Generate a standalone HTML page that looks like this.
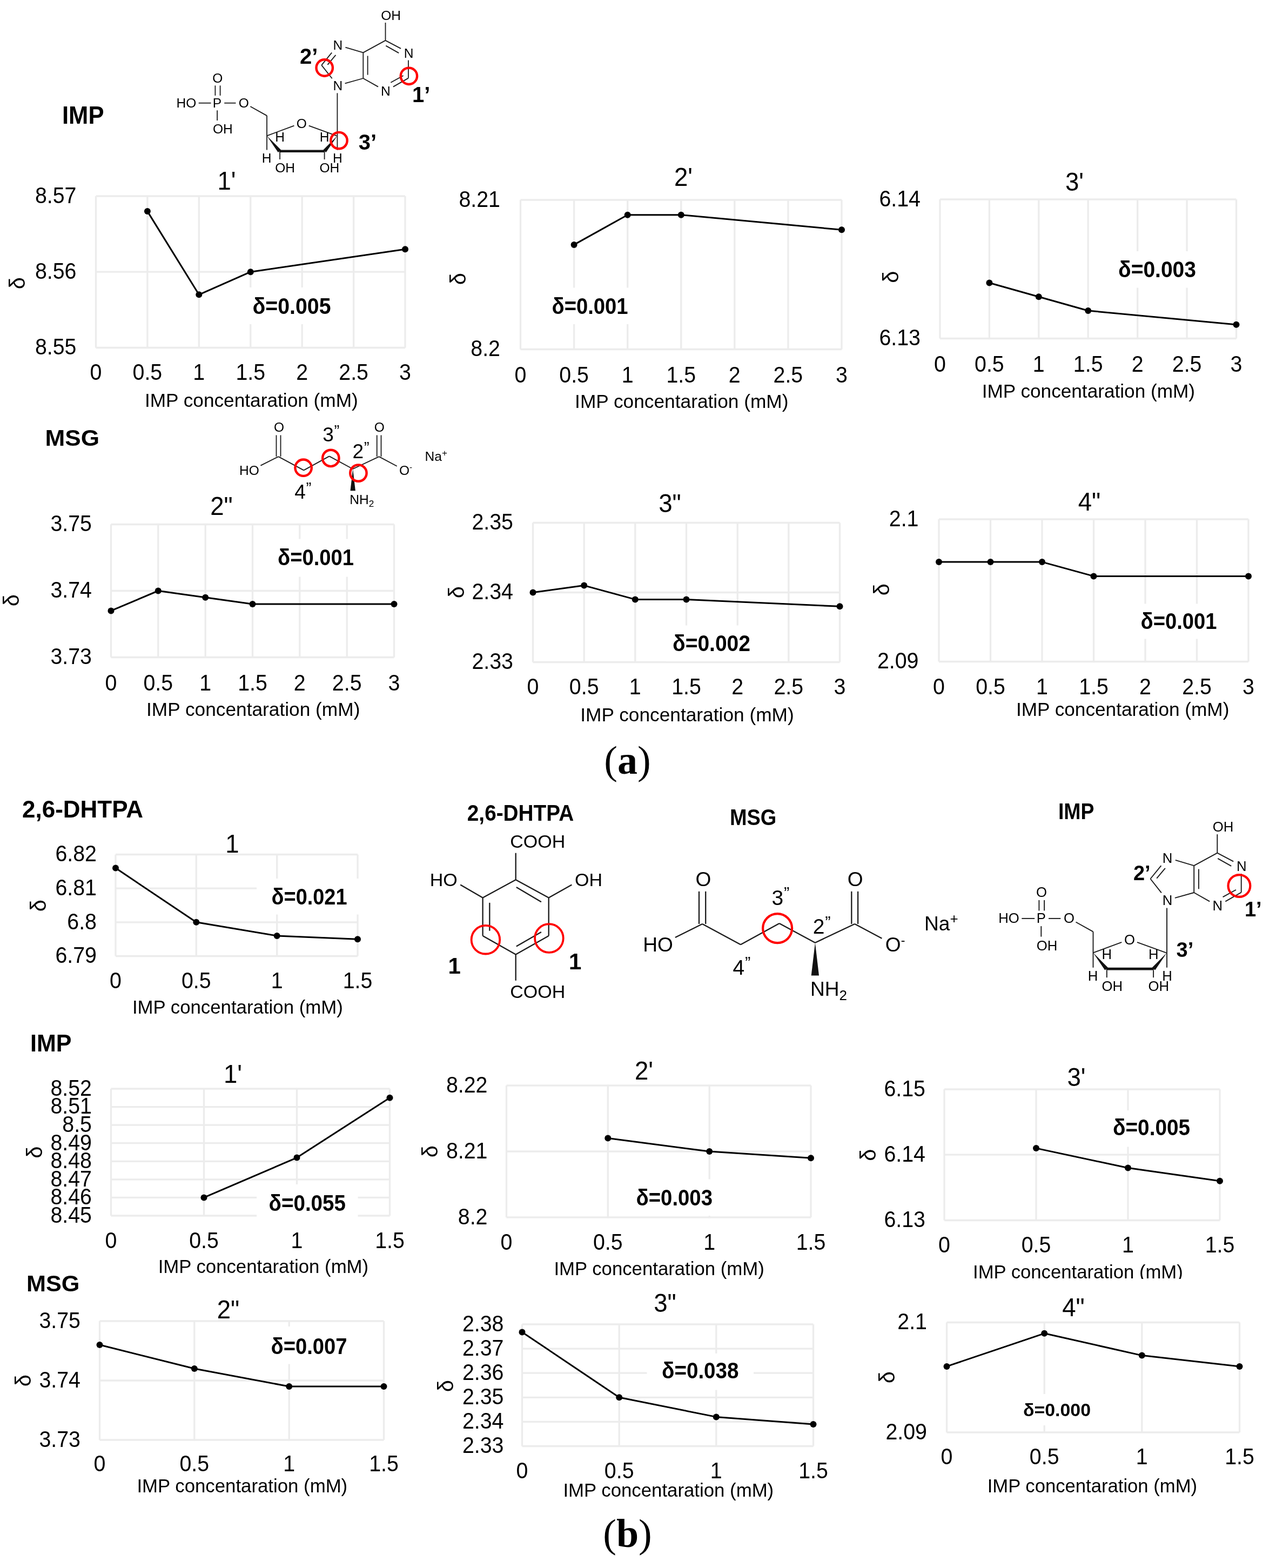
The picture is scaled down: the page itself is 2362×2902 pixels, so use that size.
<!DOCTYPE html>
<html><head><meta charset="utf-8"><title>Figure</title>
<style>html,body{margin:0;padding:0;background:#fff;}svg{display:block;}</style>
</head><body>
<svg width="2362" height="2902" viewBox="0 0 2362 2902" font-family='"Liberation Sans", Arial, Helvetica, sans-serif' fill="#000">
<rect width="2362" height="2902" fill="#fff"/>
<g stroke="#ececec" stroke-width="3.3"><line x1="177.5" y1="363.0" x2="177.5" y2="643.5"/><line x1="272.9" y1="363.0" x2="272.9" y2="643.5"/><line x1="368.3" y1="363.0" x2="368.3" y2="643.5"/><line x1="463.8" y1="363.0" x2="463.8" y2="643.5"/><line x1="559.2" y1="363.0" x2="559.2" y2="643.5"/><line x1="654.6" y1="363.0" x2="654.6" y2="643.5"/><line x1="750.0" y1="363.0" x2="750.0" y2="643.5"/><line x1="177.5" y1="363.0" x2="750.0" y2="363.0"/><line x1="177.5" y1="503.2" x2="750.0" y2="503.2"/><line x1="177.5" y1="643.5" x2="750.0" y2="643.5"/></g>
<rect x="455.0" y="532.0" width="170.0" height="68.0" fill="#fff"/>
<polyline fill="none" stroke="#000" stroke-width="3" stroke-linejoin="round" points="272.9,391.1 368.3,545.3 463.8,503.2 750.0,461.2"/>
<g fill="#000"><circle cx="272.9" cy="391.1" r="6"/><circle cx="368.3" cy="545.3" r="6"/><circle cx="463.8" cy="503.2" r="6"/><circle cx="750.0" cy="461.2" r="6"/></g>
<g font-size="43" text-anchor="end"><text transform="translate(141.5,375.8) scale(0.915,1)">8.57</text><text transform="translate(141.5,516.1) scale(0.915,1)">8.56</text><text transform="translate(141.5,656.3) scale(0.915,1)">8.55</text></g>
<g font-size="43" text-anchor="middle"><text transform="translate(177.5,702.5) scale(0.915,1)">0</text><text transform="translate(272.9,702.5) scale(0.915,1)">0.5</text><text transform="translate(368.3,702.5) scale(0.915,1)">1</text><text transform="translate(463.8,702.5) scale(0.915,1)">1.5</text><text transform="translate(559.2,702.5) scale(0.915,1)">2</text><text transform="translate(654.6,702.5) scale(0.915,1)">2.5</text><text transform="translate(750.0,702.5) scale(0.915,1)">3</text></g>
<text transform="translate(419.5,351.0) scale(0.95,1)" font-size="48" text-anchor="middle">1'</text>
<text transform="translate(32.0,524.0) rotate(-90)" font-size="40" text-anchor="middle" dominant-baseline="central">&#948;</text>
<text x="467.5" y="581.0" font-size="42" font-weight="bold" textLength="145.0" lengthAdjust="spacingAndGlyphs">&#948;=0.005</text>
<text x="267.9" y="753.0" font-size="35" textLength="394.9" lengthAdjust="spacingAndGlyphs">IMP concentaration (mM)</text>
<g stroke="#ececec" stroke-width="3.3"><line x1="963.5" y1="370.0" x2="963.5" y2="646.5"/><line x1="1062.6" y1="370.0" x2="1062.6" y2="646.5"/><line x1="1161.7" y1="370.0" x2="1161.7" y2="646.5"/><line x1="1260.8" y1="370.0" x2="1260.8" y2="646.5"/><line x1="1359.8" y1="370.0" x2="1359.8" y2="646.5"/><line x1="1458.9" y1="370.0" x2="1458.9" y2="646.5"/><line x1="1558.0" y1="370.0" x2="1558.0" y2="646.5"/><line x1="963.5" y1="370.0" x2="1558.0" y2="370.0"/><line x1="963.5" y1="646.5" x2="1558.0" y2="646.5"/></g>
<rect x="1010.0" y="532.5" width="165.0" height="67.5" fill="#fff"/>
<polyline fill="none" stroke="#000" stroke-width="3" stroke-linejoin="round" points="1062.6,452.9 1161.7,397.7 1260.8,397.7 1558.0,425.3"/>
<g fill="#000"><circle cx="1062.6" cy="452.9" r="6"/><circle cx="1161.7" cy="397.7" r="6"/><circle cx="1260.8" cy="397.7" r="6"/><circle cx="1558.0" cy="425.3" r="6"/></g>
<g font-size="43" text-anchor="end"><text transform="translate(926.0,382.8) scale(0.915,1)">8.21</text><text transform="translate(926.0,659.3) scale(0.915,1)">8.2</text></g>
<g font-size="43" text-anchor="middle"><text transform="translate(963.5,707.5) scale(0.915,1)">0</text><text transform="translate(1062.6,707.5) scale(0.915,1)">0.5</text><text transform="translate(1161.7,707.5) scale(0.915,1)">1</text><text transform="translate(1260.8,707.5) scale(0.915,1)">1.5</text><text transform="translate(1359.8,707.5) scale(0.915,1)">2</text><text transform="translate(1458.9,707.5) scale(0.915,1)">2.5</text><text transform="translate(1558.0,707.5) scale(0.915,1)">3</text></g>
<text transform="translate(1265.0,344.0) scale(0.95,1)" font-size="48" text-anchor="middle">2'</text>
<text transform="translate(848.0,516.0) rotate(-90)" font-size="40" text-anchor="middle" dominant-baseline="central">&#948;</text>
<text x="1021.5" y="581.0" font-size="42" font-weight="bold" textLength="141.0" lengthAdjust="spacingAndGlyphs">&#948;=0.001</text>
<text x="1064.1" y="755.3" font-size="35" textLength="395.4" lengthAdjust="spacingAndGlyphs">IMP concentaration (mM)</text>
<g stroke="#ececec" stroke-width="3.3"><line x1="1740.0" y1="369.0" x2="1740.0" y2="626.5"/><line x1="1831.4" y1="369.0" x2="1831.4" y2="626.5"/><line x1="1922.8" y1="369.0" x2="1922.8" y2="626.5"/><line x1="2014.2" y1="369.0" x2="2014.2" y2="626.5"/><line x1="2105.7" y1="369.0" x2="2105.7" y2="626.5"/><line x1="2197.1" y1="369.0" x2="2197.1" y2="626.5"/><line x1="2288.5" y1="369.0" x2="2288.5" y2="626.5"/><line x1="1740.0" y1="369.0" x2="2288.5" y2="369.0"/><line x1="1740.0" y1="626.5" x2="2288.5" y2="626.5"/></g>
<rect x="2058.0" y="465.0" width="168.0" height="67.5" fill="#fff"/>
<polyline fill="none" stroke="#000" stroke-width="3" stroke-linejoin="round" points="1831.4,523.5 1922.8,549.2 2014.2,575.0 2288.5,600.7"/>
<g fill="#000"><circle cx="1831.4" cy="523.5" r="6"/><circle cx="1922.8" cy="549.2" r="6"/><circle cx="2014.2" cy="575.0" r="6"/><circle cx="2288.5" cy="600.7" r="6"/></g>
<g font-size="43" text-anchor="end"><text transform="translate(1704.0,381.8) scale(0.915,1)">6.14</text><text transform="translate(1704.0,639.3) scale(0.915,1)">6.13</text></g>
<g font-size="43" text-anchor="middle"><text transform="translate(1740.0,687.5) scale(0.915,1)">0</text><text transform="translate(1831.4,687.5) scale(0.915,1)">0.5</text><text transform="translate(1922.8,687.5) scale(0.915,1)">1</text><text transform="translate(2014.2,687.5) scale(0.915,1)">1.5</text><text transform="translate(2105.7,687.5) scale(0.915,1)">2</text><text transform="translate(2197.1,687.5) scale(0.915,1)">2.5</text><text transform="translate(2288.5,687.5) scale(0.915,1)">3</text></g>
<text transform="translate(1989.0,352.5) scale(0.95,1)" font-size="48" text-anchor="middle">3'</text>
<text transform="translate(1649.0,512.5) rotate(-90)" font-size="40" text-anchor="middle" dominant-baseline="central">&#948;</text>
<text x="2070.0" y="512.5" font-size="42" font-weight="bold" textLength="144.0" lengthAdjust="spacingAndGlyphs">&#948;=0.003</text>
<text x="1817.7" y="735.5" font-size="35" textLength="394.4" lengthAdjust="spacingAndGlyphs">IMP concentaration (mM)</text>
<g stroke="#ececec" stroke-width="3.3"><line x1="205.5" y1="970.5" x2="205.5" y2="1216.5"/><line x1="292.8" y1="970.5" x2="292.8" y2="1216.5"/><line x1="380.2" y1="970.5" x2="380.2" y2="1216.5"/><line x1="467.5" y1="970.5" x2="467.5" y2="1216.5"/><line x1="554.8" y1="970.5" x2="554.8" y2="1216.5"/><line x1="642.2" y1="970.5" x2="642.2" y2="1216.5"/><line x1="729.5" y1="970.5" x2="729.5" y2="1216.5"/><line x1="205.5" y1="970.5" x2="729.5" y2="970.5"/><line x1="205.5" y1="1093.5" x2="729.5" y2="1093.5"/><line x1="205.5" y1="1216.5" x2="729.5" y2="1216.5"/></g>
<rect x="502.0" y="997.5" width="165.0" height="70.0" fill="#fff"/>
<polyline fill="none" stroke="#000" stroke-width="3" stroke-linejoin="round" points="205.5,1130.4 292.8,1093.5 380.2,1105.8 467.5,1118.1 729.5,1118.1"/>
<g fill="#000"><circle cx="205.5" cy="1130.4" r="6"/><circle cx="292.8" cy="1093.5" r="6"/><circle cx="380.2" cy="1105.8" r="6"/><circle cx="467.5" cy="1118.1" r="6"/><circle cx="729.5" cy="1118.1" r="6"/></g>
<g font-size="43" text-anchor="end"><text transform="translate(170.0,983.3) scale(0.915,1)">3.75</text><text transform="translate(170.0,1106.3) scale(0.915,1)">3.74</text><text transform="translate(170.0,1229.3) scale(0.915,1)">3.73</text></g>
<g font-size="43" text-anchor="middle"><text transform="translate(205.5,1277.5) scale(0.915,1)">0</text><text transform="translate(292.8,1277.5) scale(0.915,1)">0.5</text><text transform="translate(380.2,1277.5) scale(0.915,1)">1</text><text transform="translate(467.5,1277.5) scale(0.915,1)">1.5</text><text transform="translate(554.8,1277.5) scale(0.915,1)">2</text><text transform="translate(642.2,1277.5) scale(0.915,1)">2.5</text><text transform="translate(729.5,1277.5) scale(0.915,1)">3</text></g>
<text transform="translate(410.0,952.5) scale(0.95,1)" font-size="48" text-anchor="middle">2"</text>
<text transform="translate(21.0,1111.0) rotate(-90)" font-size="40" text-anchor="middle" dominant-baseline="central">&#948;</text>
<text x="514.0" y="1046.0" font-size="42" font-weight="bold" textLength="141.0" lengthAdjust="spacingAndGlyphs">&#948;=0.001</text>
<text x="271.0" y="1325.1" font-size="35" textLength="395.4" lengthAdjust="spacingAndGlyphs">IMP concentaration (mM)</text>
<g stroke="#ececec" stroke-width="3.3"><line x1="986.5" y1="967.5" x2="986.5" y2="1225.5"/><line x1="1081.2" y1="967.5" x2="1081.2" y2="1225.5"/><line x1="1175.8" y1="967.5" x2="1175.8" y2="1225.5"/><line x1="1270.5" y1="967.5" x2="1270.5" y2="1225.5"/><line x1="1365.2" y1="967.5" x2="1365.2" y2="1225.5"/><line x1="1459.8" y1="967.5" x2="1459.8" y2="1225.5"/><line x1="1554.5" y1="967.5" x2="1554.5" y2="1225.5"/><line x1="986.5" y1="967.5" x2="1554.5" y2="967.5"/><line x1="986.5" y1="1096.5" x2="1554.5" y2="1096.5"/><line x1="986.5" y1="1225.5" x2="1554.5" y2="1225.5"/></g>
<rect x="1233.0" y="1157.5" width="168.0" height="66.5" fill="#fff"/>
<polyline fill="none" stroke="#000" stroke-width="3" stroke-linejoin="round" points="986.5,1096.5 1081.2,1083.6 1175.8,1109.4 1270.5,1109.4 1554.5,1122.3"/>
<g fill="#000"><circle cx="986.5" cy="1096.5" r="6"/><circle cx="1081.2" cy="1083.6" r="6"/><circle cx="1175.8" cy="1109.4" r="6"/><circle cx="1270.5" cy="1109.4" r="6"/><circle cx="1554.5" cy="1122.3" r="6"/></g>
<g font-size="43" text-anchor="end"><text transform="translate(950.0,980.3) scale(0.915,1)">2.35</text><text transform="translate(950.0,1109.3) scale(0.915,1)">2.34</text><text transform="translate(950.0,1238.3) scale(0.915,1)">2.33</text></g>
<g font-size="43" text-anchor="middle"><text transform="translate(986.5,1285.0) scale(0.915,1)">0</text><text transform="translate(1081.2,1285.0) scale(0.915,1)">0.5</text><text transform="translate(1175.8,1285.0) scale(0.915,1)">1</text><text transform="translate(1270.5,1285.0) scale(0.915,1)">1.5</text><text transform="translate(1365.2,1285.0) scale(0.915,1)">2</text><text transform="translate(1459.8,1285.0) scale(0.915,1)">2.5</text><text transform="translate(1554.5,1285.0) scale(0.915,1)">3</text></g>
<text transform="translate(1240.0,947.5) scale(0.95,1)" font-size="48" text-anchor="middle">3"</text>
<text transform="translate(844.5,1096.0) rotate(-90)" font-size="40" text-anchor="middle" dominant-baseline="central">&#948;</text>
<text x="1245.0" y="1204.5" font-size="42" font-weight="bold" textLength="144.0" lengthAdjust="spacingAndGlyphs">&#948;=0.002</text>
<text x="1074.3" y="1335.1" font-size="35" textLength="395.4" lengthAdjust="spacingAndGlyphs">IMP concentaration (mM)</text>
<g stroke="#ececec" stroke-width="3.3"><line x1="1738.0" y1="961.0" x2="1738.0" y2="1224.5"/><line x1="1833.5" y1="961.0" x2="1833.5" y2="1224.5"/><line x1="1929.0" y1="961.0" x2="1929.0" y2="1224.5"/><line x1="2024.5" y1="961.0" x2="2024.5" y2="1224.5"/><line x1="2120.0" y1="961.0" x2="2120.0" y2="1224.5"/><line x1="2215.5" y1="961.0" x2="2215.5" y2="1224.5"/><line x1="2311.0" y1="961.0" x2="2311.0" y2="1224.5"/><line x1="1738.0" y1="961.0" x2="2311.0" y2="961.0"/><line x1="1738.0" y1="1224.5" x2="2311.0" y2="1224.5"/></g>
<rect x="2100.0" y="1117.5" width="165.0" height="65.0" fill="#fff"/>
<polyline fill="none" stroke="#000" stroke-width="3" stroke-linejoin="round" points="1738.0,1040.1 1833.5,1040.1 1929.0,1040.1 2024.5,1066.4 2311.0,1066.4"/>
<g fill="#000"><circle cx="1738.0" cy="1040.1" r="6"/><circle cx="1833.5" cy="1040.1" r="6"/><circle cx="1929.0" cy="1040.1" r="6"/><circle cx="2024.5" cy="1066.4" r="6"/><circle cx="2311.0" cy="1066.4" r="6"/></g>
<g font-size="43" text-anchor="end"><text transform="translate(1700.5,973.8) scale(0.915,1)">2.1</text><text transform="translate(1700.5,1237.3) scale(0.915,1)">2.09</text></g>
<g font-size="43" text-anchor="middle"><text transform="translate(1738.0,1285.0) scale(0.915,1)">0</text><text transform="translate(1833.5,1285.0) scale(0.915,1)">0.5</text><text transform="translate(1929.0,1285.0) scale(0.915,1)">1</text><text transform="translate(2024.5,1285.0) scale(0.915,1)">1.5</text><text transform="translate(2120.0,1285.0) scale(0.915,1)">2</text><text transform="translate(2215.5,1285.0) scale(0.915,1)">2.5</text><text transform="translate(2311.0,1285.0) scale(0.915,1)">3</text></g>
<text transform="translate(2016.5,945.0) scale(0.95,1)" font-size="48" text-anchor="middle">4"</text>
<text transform="translate(1631.5,1091.0) rotate(-90)" font-size="40" text-anchor="middle" dominant-baseline="central">&#948;</text>
<text x="2111.5" y="1163.5" font-size="42" font-weight="bold" textLength="141.0" lengthAdjust="spacingAndGlyphs">&#948;=0.001</text>
<text x="1881.0" y="1325.1" font-size="35" textLength="394.4" lengthAdjust="spacingAndGlyphs">IMP concentaration (mM)</text>
<g stroke="#ececec" stroke-width="3.3"><line x1="214.0" y1="1581.5" x2="214.0" y2="1769.5"/><line x1="363.3" y1="1581.5" x2="363.3" y2="1769.5"/><line x1="512.7" y1="1581.5" x2="512.7" y2="1769.5"/><line x1="662.0" y1="1581.5" x2="662.0" y2="1769.5"/><line x1="214.0" y1="1581.5" x2="662.0" y2="1581.5"/><line x1="214.0" y1="1644.2" x2="662.0" y2="1644.2"/><line x1="214.0" y1="1706.8" x2="662.0" y2="1706.8"/><line x1="214.0" y1="1769.5" x2="662.0" y2="1769.5"/></g>
<rect x="475.0" y="1626.0" width="197.0" height="66.5" fill="#fff"/>
<polyline fill="none" stroke="#000" stroke-width="3" stroke-linejoin="round" points="214.0,1606.6 363.3,1706.8 512.7,1731.9 662.0,1738.2"/>
<g fill="#000"><circle cx="214.0" cy="1606.6" r="6"/><circle cx="363.3" cy="1706.8" r="6"/><circle cx="512.7" cy="1731.9" r="6"/><circle cx="662.0" cy="1738.2" r="6"/></g>
<g font-size="43" text-anchor="end"><text transform="translate(179.0,1594.3) scale(0.915,1)">6.82</text><text transform="translate(179.0,1657.0) scale(0.915,1)">6.81</text><text transform="translate(179.0,1719.7) scale(0.915,1)">6.8</text><text transform="translate(179.0,1782.3) scale(0.915,1)">6.79</text></g>
<g font-size="43" text-anchor="middle"><text transform="translate(214.0,1828.5) scale(0.915,1)">0</text><text transform="translate(363.3,1828.5) scale(0.915,1)">0.5</text><text transform="translate(512.7,1828.5) scale(0.915,1)">1</text><text transform="translate(662.0,1828.5) scale(0.915,1)">1.5</text></g>
<text transform="translate(430.0,1577.5) scale(0.95,1)" font-size="48" text-anchor="middle">1</text>
<text transform="translate(71.0,1676.0) rotate(-90)" font-size="40" text-anchor="middle" dominant-baseline="central">&#948;</text>
<text x="502.5" y="1673.5" font-size="42" font-weight="bold" textLength="140.0" lengthAdjust="spacingAndGlyphs">&#948;=0.021</text>
<text x="244.9" y="1876.3" font-size="35" textLength="389.9" lengthAdjust="spacingAndGlyphs">IMP concentaration (mM)</text>
<g stroke="#ececec" stroke-width="3.3"><line x1="205.5" y1="2015.0" x2="205.5" y2="2250.0"/><line x1="377.5" y1="2015.0" x2="377.5" y2="2250.0"/><line x1="549.5" y1="2015.0" x2="549.5" y2="2250.0"/><line x1="721.5" y1="2015.0" x2="721.5" y2="2250.0"/><line x1="205.5" y1="2015.0" x2="721.5" y2="2015.0"/><line x1="205.5" y1="2048.6" x2="721.5" y2="2048.6"/><line x1="205.5" y1="2082.1" x2="721.5" y2="2082.1"/><line x1="205.5" y1="2115.7" x2="721.5" y2="2115.7"/><line x1="205.5" y1="2149.3" x2="721.5" y2="2149.3"/><line x1="205.5" y1="2182.9" x2="721.5" y2="2182.9"/><line x1="205.5" y1="2216.4" x2="721.5" y2="2216.4"/><line x1="205.5" y1="2250.0" x2="721.5" y2="2250.0"/></g>
<rect x="475.0" y="2192.0" width="187.5" height="64.0" fill="#fff"/>
<polyline fill="none" stroke="#000" stroke-width="3" stroke-linejoin="round" points="377.5,2216.4 549.5,2142.6 721.5,2031.8"/>
<g fill="#000"><circle cx="377.5" cy="2216.4" r="6"/><circle cx="549.5" cy="2142.6" r="6"/><circle cx="721.5" cy="2031.8" r="6"/></g>
<g font-size="43" text-anchor="end"><text transform="translate(170.0,2027.8) scale(0.915,1)">8.52</text><text transform="translate(170.0,2061.4) scale(0.915,1)">8.51</text><text transform="translate(170.0,2095.0) scale(0.915,1)">8.5</text><text transform="translate(170.0,2128.5) scale(0.915,1)">8.49</text><text transform="translate(170.0,2162.1) scale(0.915,1)">8.48</text><text transform="translate(170.0,2195.7) scale(0.915,1)">8.47</text><text transform="translate(170.0,2229.3) scale(0.915,1)">8.46</text><text transform="translate(170.0,2262.8) scale(0.915,1)">8.45</text></g>
<g font-size="43" text-anchor="middle"><text transform="translate(205.5,2310.0) scale(0.915,1)">0</text><text transform="translate(377.5,2310.0) scale(0.915,1)">0.5</text><text transform="translate(549.5,2310.0) scale(0.915,1)">1</text><text transform="translate(721.5,2310.0) scale(0.915,1)">1.5</text></g>
<text transform="translate(431.0,2004.0) scale(0.95,1)" font-size="48" text-anchor="middle">1'</text>
<text transform="translate(64.0,2132.5) rotate(-90)" font-size="40" text-anchor="middle" dominant-baseline="central">&#948;</text>
<text x="497.5" y="2241.0" font-size="42" font-weight="bold" textLength="142.5" lengthAdjust="spacingAndGlyphs">&#948;=0.055</text>
<text x="292.7" y="2356.3" font-size="35" textLength="389.4" lengthAdjust="spacingAndGlyphs">IMP concentaration (mM)</text>
<g stroke="#ececec" stroke-width="3.3"><line x1="937.5" y1="2009.0" x2="937.5" y2="2253.0"/><line x1="1125.3" y1="2009.0" x2="1125.3" y2="2253.0"/><line x1="1313.2" y1="2009.0" x2="1313.2" y2="2253.0"/><line x1="1501.0" y1="2009.0" x2="1501.0" y2="2253.0"/><line x1="937.5" y1="2009.0" x2="1501.0" y2="2009.0"/><line x1="937.5" y1="2131.0" x2="1501.0" y2="2131.0"/><line x1="937.5" y1="2253.0" x2="1501.0" y2="2253.0"/></g>
<rect x="1165.0" y="2182.5" width="167.0" height="67.5" fill="#fff"/>
<polyline fill="none" stroke="#000" stroke-width="3" stroke-linejoin="round" points="1125.3,2106.6 1313.2,2131.0 1501.0,2143.2"/>
<g fill="#000"><circle cx="1125.3" cy="2106.6" r="6"/><circle cx="1313.2" cy="2131.0" r="6"/><circle cx="1501.0" cy="2143.2" r="6"/></g>
<g font-size="43" text-anchor="end"><text transform="translate(902.5,2021.8) scale(0.915,1)">8.22</text><text transform="translate(902.5,2143.8) scale(0.915,1)">8.21</text><text transform="translate(902.5,2265.8) scale(0.915,1)">8.2</text></g>
<g font-size="43" text-anchor="middle"><text transform="translate(937.5,2312.5) scale(0.915,1)">0</text><text transform="translate(1125.3,2312.5) scale(0.915,1)">0.5</text><text transform="translate(1313.2,2312.5) scale(0.915,1)">1</text><text transform="translate(1501.0,2312.5) scale(0.915,1)">1.5</text></g>
<text transform="translate(1192.0,1997.5) scale(0.95,1)" font-size="48" text-anchor="middle">2'</text>
<text transform="translate(795.5,2131.0) rotate(-90)" font-size="40" text-anchor="middle" dominant-baseline="central">&#948;</text>
<text x="1177.5" y="2231.0" font-size="42" font-weight="bold" textLength="141.5" lengthAdjust="spacingAndGlyphs">&#948;=0.003</text>
<text x="1025.4" y="2360.3" font-size="35" textLength="389.4" lengthAdjust="spacingAndGlyphs">IMP concentaration (mM)</text>
<g stroke="#ececec" stroke-width="3.3"><line x1="1748.0" y1="2016.0" x2="1748.0" y2="2258.5"/><line x1="1918.0" y1="2016.0" x2="1918.0" y2="2258.5"/><line x1="2088.0" y1="2016.0" x2="2088.0" y2="2258.5"/><line x1="2258.0" y1="2016.0" x2="2258.0" y2="2258.5"/><line x1="1748.0" y1="2016.0" x2="2258.0" y2="2016.0"/><line x1="1748.0" y1="2137.2" x2="2258.0" y2="2137.2"/><line x1="1748.0" y1="2258.5" x2="2258.0" y2="2258.5"/></g>
<rect x="2048.0" y="2055.0" width="167.0" height="67.5" fill="#fff"/>
<polyline fill="none" stroke="#000" stroke-width="3" stroke-linejoin="round" points="1918.0,2125.1 2088.0,2161.5 2258.0,2185.7"/>
<g fill="#000"><circle cx="1918.0" cy="2125.1" r="6"/><circle cx="2088.0" cy="2161.5" r="6"/><circle cx="2258.0" cy="2185.7" r="6"/></g>
<g font-size="43" text-anchor="end"><text transform="translate(1713.0,2028.8) scale(0.915,1)">6.15</text><text transform="translate(1713.0,2150.1) scale(0.915,1)">6.14</text><text transform="translate(1713.0,2271.3) scale(0.915,1)">6.13</text></g>
<g font-size="43" text-anchor="middle"><text transform="translate(1748.0,2317.5) scale(0.915,1)">0</text><text transform="translate(1918.0,2317.5) scale(0.915,1)">0.5</text><text transform="translate(2088.0,2317.5) scale(0.915,1)">1</text><text transform="translate(2258.0,2317.5) scale(0.915,1)">1.5</text></g>
<text transform="translate(1992.5,2010.0) scale(0.95,1)" font-size="48" text-anchor="middle">3'</text>
<text transform="translate(1606.5,2137.5) rotate(-90)" font-size="40" text-anchor="middle" dominant-baseline="central">&#948;</text>
<text x="2060.0" y="2101.0" font-size="42" font-weight="bold" textLength="143.0" lengthAdjust="spacingAndGlyphs">&#948;=0.005</text>
<text x="1801.0" y="2366.1" font-size="35" textLength="388.8" lengthAdjust="spacingAndGlyphs">IMP concentaration (mM)</text>
<g stroke="#ececec" stroke-width="3.3"><line x1="184.5" y1="2445.0" x2="184.5" y2="2665.0"/><line x1="359.8" y1="2445.0" x2="359.8" y2="2665.0"/><line x1="535.2" y1="2445.0" x2="535.2" y2="2665.0"/><line x1="710.5" y1="2445.0" x2="710.5" y2="2665.0"/><line x1="184.5" y1="2445.0" x2="710.5" y2="2445.0"/><line x1="184.5" y1="2555.0" x2="710.5" y2="2555.0"/><line x1="184.5" y1="2665.0" x2="710.5" y2="2665.0"/></g>
<rect x="490.0" y="2455.0" width="165.0" height="69.5" fill="#fff"/>
<polyline fill="none" stroke="#000" stroke-width="3" stroke-linejoin="round" points="184.5,2489.0 359.8,2533.0 535.2,2566.0 710.5,2566.0"/>
<g fill="#000"><circle cx="184.5" cy="2489.0" r="6"/><circle cx="359.8" cy="2533.0" r="6"/><circle cx="535.2" cy="2566.0" r="6"/><circle cx="710.5" cy="2566.0" r="6"/></g>
<g font-size="43" text-anchor="end"><text transform="translate(149.0,2457.8) scale(0.915,1)">3.75</text><text transform="translate(149.0,2567.8) scale(0.915,1)">3.74</text><text transform="translate(149.0,2677.8) scale(0.915,1)">3.73</text></g>
<g font-size="43" text-anchor="middle"><text transform="translate(184.5,2723.0) scale(0.915,1)">0</text><text transform="translate(359.8,2723.0) scale(0.915,1)">0.5</text><text transform="translate(535.2,2723.0) scale(0.915,1)">1</text><text transform="translate(710.5,2723.0) scale(0.915,1)">1.5</text></g>
<text transform="translate(422.5,2440.0) scale(0.95,1)" font-size="48" text-anchor="middle">2"</text>
<text transform="translate(42.5,2555.0) rotate(-90)" font-size="40" text-anchor="middle" dominant-baseline="central">&#948;</text>
<text x="501.5" y="2506.0" font-size="42" font-weight="bold" textLength="141.0" lengthAdjust="spacingAndGlyphs">&#948;=0.007</text>
<text x="253.4" y="2762.0" font-size="35" textLength="389.8" lengthAdjust="spacingAndGlyphs">IMP concentaration (mM)</text>
<g stroke="#ececec" stroke-width="3.3"><line x1="966.5" y1="2451.0" x2="966.5" y2="2676.5"/><line x1="1146.2" y1="2451.0" x2="1146.2" y2="2676.5"/><line x1="1325.8" y1="2451.0" x2="1325.8" y2="2676.5"/><line x1="1505.5" y1="2451.0" x2="1505.5" y2="2676.5"/><line x1="966.5" y1="2451.0" x2="1505.5" y2="2451.0"/><line x1="966.5" y1="2496.1" x2="1505.5" y2="2496.1"/><line x1="966.5" y1="2541.2" x2="1505.5" y2="2541.2"/><line x1="966.5" y1="2586.3" x2="1505.5" y2="2586.3"/><line x1="966.5" y1="2631.4" x2="1505.5" y2="2631.4"/><line x1="966.5" y1="2676.5" x2="1505.5" y2="2676.5"/></g>
<rect x="1197.5" y="2505.0" width="197.5" height="67.5" fill="#fff"/>
<polyline fill="none" stroke="#000" stroke-width="3" stroke-linejoin="round" points="966.5,2465.4 1146.2,2586.3 1325.8,2622.4 1505.5,2635.9"/>
<g fill="#000"><circle cx="966.5" cy="2465.4" r="6"/><circle cx="1146.2" cy="2586.3" r="6"/><circle cx="1325.8" cy="2622.4" r="6"/><circle cx="1505.5" cy="2635.9" r="6"/></g>
<g font-size="43" text-anchor="end"><text transform="translate(932.5,2463.8) scale(0.915,1)">2.38</text><text transform="translate(932.5,2508.9) scale(0.915,1)">2.37</text><text transform="translate(932.5,2554.0) scale(0.915,1)">2.36</text><text transform="translate(932.5,2599.1) scale(0.915,1)">2.35</text><text transform="translate(932.5,2644.2) scale(0.915,1)">2.34</text><text transform="translate(932.5,2689.3) scale(0.915,1)">2.33</text></g>
<g font-size="43" text-anchor="middle"><text transform="translate(966.5,2736.0) scale(0.915,1)">0</text><text transform="translate(1146.2,2736.0) scale(0.915,1)">0.5</text><text transform="translate(1325.8,2736.0) scale(0.915,1)">1</text><text transform="translate(1505.5,2736.0) scale(0.915,1)">1.5</text></g>
<text transform="translate(1231.0,2427.5) scale(0.95,1)" font-size="48" text-anchor="middle">3"</text>
<text transform="translate(825.0,2565.0) rotate(-90)" font-size="40" text-anchor="middle" dominant-baseline="central">&#948;</text>
<text x="1225.0" y="2551.0" font-size="42" font-weight="bold" textLength="142.5" lengthAdjust="spacingAndGlyphs">&#948;=0.038</text>
<text x="1042.4" y="2770.1" font-size="35" textLength="389.8" lengthAdjust="spacingAndGlyphs">IMP concentaration (mM)</text>
<g stroke="#ececec" stroke-width="3.3"><line x1="1752.5" y1="2447.5" x2="1752.5" y2="2651.0"/><line x1="1933.2" y1="2447.5" x2="1933.2" y2="2651.0"/><line x1="2113.8" y1="2447.5" x2="2113.8" y2="2651.0"/><line x1="2294.5" y1="2447.5" x2="2294.5" y2="2651.0"/><line x1="1752.5" y1="2447.5" x2="2294.5" y2="2447.5"/><line x1="1752.5" y1="2651.0" x2="2294.5" y2="2651.0"/></g>
<rect x="1884.0" y="2580.0" width="146.0" height="58.0" fill="#fff"/>
<polyline fill="none" stroke="#000" stroke-width="3" stroke-linejoin="round" points="1752.5,2528.9 1933.2,2467.8 2113.8,2508.6 2294.5,2528.9"/>
<g fill="#000"><circle cx="1752.5" cy="2528.9" r="6"/><circle cx="1933.2" cy="2467.8" r="6"/><circle cx="2113.8" cy="2508.6" r="6"/><circle cx="2294.5" cy="2528.9" r="6"/></g>
<g font-size="43" text-anchor="end"><text transform="translate(1716.0,2460.3) scale(0.915,1)">2.1</text><text transform="translate(1716.0,2663.8) scale(0.915,1)">2.09</text></g>
<g font-size="43" text-anchor="middle"><text transform="translate(1752.5,2710.0) scale(0.915,1)">0</text><text transform="translate(1933.2,2710.0) scale(0.915,1)">0.5</text><text transform="translate(2113.8,2710.0) scale(0.915,1)">1</text><text transform="translate(2294.5,2710.0) scale(0.915,1)">1.5</text></g>
<text transform="translate(1987.0,2436.0) scale(0.95,1)" font-size="48" text-anchor="middle">4"</text>
<text transform="translate(1641.5,2549.0) rotate(-90)" font-size="40" text-anchor="middle" dominant-baseline="central">&#948;</text>
<text x="1894.0" y="2621.0" font-size="33" font-weight="bold" textLength="125.0" lengthAdjust="spacingAndGlyphs">&#948;=0.000</text>
<text x="1827.7" y="2762.0" font-size="35" textLength="388.4" lengthAdjust="spacingAndGlyphs">IMP concentaration (mM)</text>
<text x="115.0" y="229.0" font-size="46" font-weight="bold" textLength="77.5" lengthAdjust="spacingAndGlyphs">IMP</text>
<text x="83.5" y="824.7" font-size="42" font-weight="bold" textLength="100.5" lengthAdjust="spacingAndGlyphs">MSG</text>
<text x="41.0" y="1512.5" font-size="44" font-weight="bold" textLength="224.0" lengthAdjust="spacingAndGlyphs">2,6-DHTPA</text>
<text x="56.0" y="1946.0" font-size="44" font-weight="bold" textLength="76.5" lengthAdjust="spacingAndGlyphs">IMP</text>
<text x="49.0" y="2390.0" font-size="42" font-weight="bold" textLength="98.5" lengthAdjust="spacingAndGlyphs">MSG</text>
<text x="864.8" y="1518.8" font-size="42" font-weight="bold" textLength="197.5" lengthAdjust="spacingAndGlyphs">2,6-DHTPA</text>
<text x="1351.0" y="1527.1" font-size="42" font-weight="bold" textLength="86.3" lengthAdjust="spacingAndGlyphs">MSG</text>
<text x="1958.9" y="1516.2" font-size="42" font-weight="bold" textLength="66.5" lengthAdjust="spacingAndGlyphs">IMP</text>
<text x="1161.5" y="1432" font-size="74" font-family='"Liberation Serif", "Times New Roman", serif' text-anchor="middle">(<tspan font-weight="bold">a</tspan>)</text>
<text x="1161.5" y="2862.5" font-size="74" font-family='"Liberation Serif", "Times New Roman", serif' text-anchor="middle">(<tspan font-weight="bold">b</tspan>)</text>
<g stroke="#1a1a1a" stroke-width="1.8" stroke-linecap="butt"><line x1="713.5" y1="41.9" x2="713.5" y2="74.9"/><line x1="713.5" y1="74.9" x2="742.0" y2="89.9"/><line x1="714.3" y1="84.6" x2="738.2" y2="98.1"/><line x1="755.9" y1="111.6" x2="755.9" y2="144.6"/><line x1="755.9" y1="144.6" x2="727.8" y2="160.6"/><line x1="746.5" y1="140.0" x2="723.3" y2="152.8"/><line x1="700.0" y1="160.6" x2="672.3" y2="145.0"/><line x1="672.3" y1="145.0" x2="672.3" y2="97.4"/><line x1="680.6" y1="103.4" x2="680.6" y2="138.6"/><line x1="672.3" y1="97.4" x2="713.5" y2="74.9"/><line x1="672.3" y1="97.4" x2="639.4" y2="87.6"/><line x1="614.2" y1="97.4" x2="595.2" y2="120.6"/><line x1="621.4" y1="101.9" x2="606.4" y2="119.8"/><line x1="595.2" y1="120.6" x2="614.7" y2="145.3"/><line x1="638.6" y1="154.3" x2="672.3" y2="145.0"/><line x1="624.4" y1="172.3" x2="624.4" y2="277.6"/><line x1="398.4" y1="158.3" x2="398.4" y2="176.9"/><line x1="407.6" y1="158.3" x2="407.6" y2="176.9"/><line x1="367.7" y1="190.7" x2="390.5" y2="190.7"/><line x1="415.2" y1="190.7" x2="436.5" y2="190.7"/><line x1="402.1" y1="204.3" x2="402.1" y2="222.9"/><line x1="463.4" y1="197.0" x2="494.0" y2="214.1"/><line x1="494.0" y1="214.1" x2="494.0" y2="277.6"/><line x1="494.0" y1="251.3" x2="544.4" y2="232.7"/><line x1="571.7" y1="232.7" x2="623.2" y2="251.3"/><line x1="518.1" y1="282.0" x2="518.1" y2="295.1"/><line x1="600.6" y1="282.0" x2="600.6" y2="295.1"/></g>
<polygon fill="#111" points="494.0,251.3 514.8,282.0 520.2,277.6"/>
<polygon fill="#111" points="598.3,277.6 603.5,282.0 624.4,251.3"/>
<polygon fill="#111" points="517.0,277.6 601.3,277.6 601.3,282.0 517.0,282.0"/>
<text x="705.3" y="37.1" font-size="24.5" text-anchor="start">OH</text>
<text x="756.5" y="106.7" font-size="24.5" text-anchor="middle">N</text>
<text x="713.9" y="176.8" font-size="24.5" text-anchor="middle">N</text>
<text x="625.4" y="92.1" font-size="24.5" text-anchor="middle">N</text>
<text x="625.4" y="166.6" font-size="24.5" text-anchor="middle">N</text>
<text x="402.8" y="152.8" font-size="24.5" text-anchor="middle">O</text>
<text x="326.6" y="198.8" font-size="24.5" text-anchor="start">HO</text>
<text x="402.0" y="198.8" font-size="24.5" text-anchor="middle">P</text>
<text x="451.4" y="198.8" font-size="24.5" text-anchor="middle">O</text>
<text x="394.0" y="247.0" font-size="24.5" text-anchor="start">OH</text>
<text x="558.4" y="237.1" font-size="24.5" text-anchor="middle">O</text>
<text x="518.1" y="262.3" font-size="24.5" text-anchor="middle">H</text>
<text x="600.7" y="262.3" font-size="24.5" text-anchor="middle">H</text>
<text x="493.5" y="300.6" font-size="24.5" text-anchor="middle">H</text>
<text x="624.8" y="300.6" font-size="24.5" text-anchor="middle">H</text>
<text x="509.3" y="319.2" font-size="24.5" text-anchor="start">OH</text>
<text x="591.4" y="319.2" font-size="24.5" text-anchor="start">OH</text>
<circle cx="600.7" cy="125.5" r="15.2" fill="none" stroke="#ff0000" stroke-width="4.4"/>
<circle cx="756.9" cy="140.8" r="15.2" fill="none" stroke="#ff0000" stroke-width="4.4"/>
<circle cx="627.5" cy="260.1" r="15.2" fill="none" stroke="#ff0000" stroke-width="4.4"/>
<text x="555" y="118.3" font-size="40" font-weight="bold">2&#8217;</text>
<text x="763" y="188.7" font-size="40" font-weight="bold">1&#8217;</text>
<text x="663.7" y="276.5" font-size="40" font-weight="bold">3&#8217;</text>
<g stroke="#1a1a1a" stroke-width="1.9" stroke-linecap="butt"><line x1="2253.3" y1="1544.1" x2="2253.3" y2="1578.6"/><line x1="2253.3" y1="1578.6" x2="2283.2" y2="1594.3"/><line x1="2254.2" y1="1588.8" x2="2279.2" y2="1602.9"/><line x1="2297.7" y1="1617.0" x2="2297.7" y2="1651.6"/><line x1="2297.7" y1="1651.6" x2="2268.3" y2="1668.3"/><line x1="2287.9" y1="1646.8" x2="2263.6" y2="1660.2"/><line x1="2239.2" y1="1668.3" x2="2210.2" y2="1652.0"/><line x1="2210.2" y1="1652.0" x2="2210.2" y2="1602.2"/><line x1="2218.9" y1="1608.5" x2="2218.9" y2="1645.3"/><line x1="2210.2" y1="1602.2" x2="2253.3" y2="1578.6"/><line x1="2210.2" y1="1602.2" x2="2175.8" y2="1591.9"/><line x1="2149.4" y1="1602.2" x2="2129.5" y2="1626.5"/><line x1="2156.9" y1="1606.9" x2="2141.2" y2="1625.6"/><line x1="2129.5" y1="1626.5" x2="2149.9" y2="1652.3"/><line x1="2174.9" y1="1661.8" x2="2210.2" y2="1652.0"/><line x1="2160.0" y1="1680.6" x2="2160.0" y2="1790.8"/><line x1="1923.4" y1="1665.9" x2="1923.4" y2="1685.4"/><line x1="1933.1" y1="1665.9" x2="1933.1" y2="1685.4"/><line x1="1891.3" y1="1699.9" x2="1915.2" y2="1699.9"/><line x1="1941.0" y1="1699.9" x2="1963.3" y2="1699.9"/><line x1="1927.3" y1="1714.1" x2="1927.3" y2="1733.6"/><line x1="1991.5" y1="1706.5" x2="2023.5" y2="1724.4"/><line x1="2023.5" y1="1724.4" x2="2023.5" y2="1790.8"/><line x1="2023.5" y1="1763.3" x2="2076.3" y2="1743.8"/><line x1="2104.9" y1="1743.8" x2="2158.8" y2="1763.3"/><line x1="2048.8" y1="1795.5" x2="2048.8" y2="1809.2"/><line x1="2135.1" y1="1795.5" x2="2135.1" y2="1809.2"/></g>
<polygon fill="#111" points="2023.5,1763.3 2045.3,1795.5 2050.9,1790.8"/>
<polygon fill="#111" points="2132.7,1790.8 2138.2,1795.5 2160.0,1763.3"/>
<polygon fill="#111" points="2047.6,1790.8 2135.9,1790.8 2135.9,1795.5 2047.6,1795.5"/>
<text x="2244.7" y="1539.0" font-size="25.7" text-anchor="start">OH</text>
<text x="2298.4" y="1611.9" font-size="25.7" text-anchor="middle">N</text>
<text x="2253.8" y="1685.3" font-size="25.7" text-anchor="middle">N</text>
<text x="2161.1" y="1596.6" font-size="25.7" text-anchor="middle">N</text>
<text x="2161.1" y="1674.6" font-size="25.7" text-anchor="middle">N</text>
<text x="1928.0" y="1660.2" font-size="25.7" text-anchor="middle">O</text>
<text x="1848.3" y="1708.3" font-size="25.7" text-anchor="start">HO</text>
<text x="1927.2" y="1708.3" font-size="25.7" text-anchor="middle">P</text>
<text x="1978.9" y="1708.3" font-size="25.7" text-anchor="middle">O</text>
<text x="1918.8" y="1758.8" font-size="25.7" text-anchor="start">OH</text>
<text x="2090.9" y="1748.4" font-size="25.7" text-anchor="middle">O</text>
<text x="2048.8" y="1774.8" font-size="25.7" text-anchor="middle">H</text>
<text x="2135.2" y="1774.8" font-size="25.7" text-anchor="middle">H</text>
<text x="2023.0" y="1814.9" font-size="25.7" text-anchor="middle">H</text>
<text x="2160.5" y="1814.9" font-size="25.7" text-anchor="middle">H</text>
<text x="2039.5" y="1834.4" font-size="25.7" text-anchor="start">OH</text>
<text x="2125.5" y="1834.4" font-size="25.7" text-anchor="start">OH</text>
<circle cx="2293.9" cy="1639.5" r="20.4" fill="none" stroke="#ff0000" stroke-width="4.2"/>
<text x="2097.9" y="1628.6" font-size="38" font-weight="bold">2&#8217;</text>
<text x="2303.9" y="1695.7" font-size="38" font-weight="bold">1&#8217;</text>
<text x="2177.5" y="1770.6" font-size="38" font-weight="bold">3&#8217;</text>
<g stroke="#1a1a1a" stroke-width="1.8" stroke-linecap="butt"><line x1="511.5" y1="805.4" x2="511.5" y2="845.1"/><line x1="519.5" y1="805.4" x2="519.5" y2="845.1"/><line x1="482.4" y1="861.6" x2="515.5" y2="845.1"/><line x1="515.5" y1="845.1" x2="562.3" y2="870.4"/><line x1="562.3" y1="870.4" x2="609.5" y2="844.4"/><line x1="609.5" y1="844.4" x2="653.2" y2="868.0"/><line x1="653.2" y1="868.0" x2="701.6" y2="845.1"/><line x1="701.6" y1="845.1" x2="734.7" y2="862.8"/><line x1="697.7" y1="805.4" x2="697.7" y2="845.1"/><line x1="705.5" y1="805.4" x2="705.5" y2="845.1"/></g>
<polygon fill="#111" points="653.2,868.0 648.5,908.2 657.9,908.2"/>
<text x="516.6" y="798.8" font-size="24.5" text-anchor="middle">O</text>
<text x="702.2" y="798.8" font-size="24.5" text-anchor="middle">O</text>
<text x="443.0" y="878.6" font-size="24.5" text-anchor="start">HO</text>
<text x="738.9" y="878.6" font-size="24.5" text-anchor="start">O<tspan font-size="15.2" dy="-8.6">-</tspan></text>
<text x="647.3" y="933.0" font-size="24.5" text-anchor="start">NH<tspan font-size="17.1" dy="4.9">2</tspan></text>
<text x="786.6" y="852.7" font-size="24.5" text-anchor="start">Na<tspan font-size="17.1" dy="-8.6">+</tspan></text>
<circle cx="561.6" cy="865.7" r="15.2" fill="none" stroke="#ff0000" stroke-width="4.4"/>
<circle cx="612.3" cy="847.9" r="15.2" fill="none" stroke="#ff0000" stroke-width="4.4"/>
<circle cx="663.4" cy="875.6" r="15.2" fill="none" stroke="#ff0000" stroke-width="4.4"/>
<text x="597.2" y="817.2" font-size="37">3<tspan font-size="29.6" dx="0.7" dy="-10.0">&#8221;</tspan></text>
<text x="652.5" y="848" font-size="37">2<tspan font-size="29.6" dx="0.7" dy="-10.0">&#8221;</tspan></text>
<text x="545.3" y="923.1" font-size="37">4<tspan font-size="29.6" dx="0.7" dy="-10.0">&#8221;</tspan></text>
<g stroke="#1a1a1a" stroke-width="2.3" stroke-linecap="butt"><line x1="1294.0" y1="1649.8" x2="1294.0" y2="1710.0"/><line x1="1306.2" y1="1649.8" x2="1306.2" y2="1710.0"/><line x1="1249.9" y1="1735.0" x2="1300.1" y2="1710.0"/><line x1="1300.1" y1="1710.0" x2="1371.0" y2="1748.3"/><line x1="1371.0" y1="1748.3" x2="1442.6" y2="1708.9"/><line x1="1442.6" y1="1708.9" x2="1508.9" y2="1744.7"/><line x1="1508.9" y1="1744.7" x2="1582.2" y2="1710.0"/><line x1="1582.2" y1="1710.0" x2="1632.4" y2="1736.8"/><line x1="1576.3" y1="1649.8" x2="1576.3" y2="1710.0"/><line x1="1588.1" y1="1649.8" x2="1588.1" y2="1710.0"/></g>
<polygon fill="#111" points="1508.9,1744.7 1501.7,1805.6 1516.0,1805.6"/>
<text x="1301.8" y="1639.8" font-size="37.1" text-anchor="middle">O</text>
<text x="1583.1" y="1639.8" font-size="37.1" text-anchor="middle">O</text>
<text x="1190.2" y="1760.8" font-size="37.1" text-anchor="start">HO</text>
<text x="1638.8" y="1760.8" font-size="37.1" text-anchor="start">O<tspan font-size="23.0" dy="-13.0">-</tspan></text>
<text x="1499.9" y="1843.2" font-size="37.1" text-anchor="start">NH<tspan font-size="26.0" dy="7.4">2</tspan></text>
<text x="1711.1" y="1721.5" font-size="37.1" text-anchor="start">Na<tspan font-size="26.0" dy="-13.0">+</tspan></text>
<circle cx="1439.1" cy="1718.1" r="27.0" fill="none" stroke="#ff0000" stroke-width="4.2"/>
<text x="1428.4" y="1674.6" font-size="39">3<tspan font-size="31.2" dx="0.8" dy="-10.5">&#8221;</tspan></text>
<text x="1504.7" y="1728.4" font-size="39">2<tspan font-size="31.2" dx="0.8" dy="-10.5">&#8221;</tspan></text>
<text x="1356.5" y="1803.6" font-size="39">4<tspan font-size="31.2" dx="0.8" dy="-10.5">&#8221;</tspan></text>
<g stroke="#1a1a1a" stroke-width="2.3" stroke-linecap="butt"><line x1="954.7" y1="1628.2" x2="1015.7" y2="1661.6"/><line x1="1015.7" y1="1661.6" x2="1015.7" y2="1731.9"/><line x1="1015.7" y1="1731.9" x2="954.7" y2="1766.4"/><line x1="954.7" y1="1766.4" x2="893.6" y2="1731.9"/><line x1="893.6" y1="1731.9" x2="893.6" y2="1661.6"/><line x1="893.6" y1="1661.6" x2="954.7" y2="1628.2"/><line x1="955.8" y1="1642.0" x2="1001.9" y2="1669.2"/><line x1="906.3" y1="1670.8" x2="906.3" y2="1722.7"/><line x1="955.8" y1="1751.4" x2="1001.9" y2="1725.0"/><line x1="954.7" y1="1578.7" x2="954.7" y2="1628.2"/><line x1="954.7" y1="1766.4" x2="954.7" y2="1814.8"/><line x1="852.2" y1="1637.4" x2="893.6" y2="1661.6"/><line x1="1015.7" y1="1661.6" x2="1058.4" y2="1637.4"/></g>
<text x="944.3" y="1569.4" font-size="34">COOH</text>
<text x="944.3" y="1847.1" font-size="34">COOH</text>
<text x="795.7" y="1639.7" font-size="34">HO</text>
<text x="1064.1" y="1639.7" font-size="34">OH</text>
<circle cx="898.9" cy="1739.2" r="26.3" fill="none" stroke="#ff0000" stroke-width="3.8"/>
<circle cx="1016.4" cy="1736.5" r="26.3" fill="none" stroke="#ff0000" stroke-width="3.8"/>
<text x="829.5" y="1802.1" font-size="42" font-weight="bold">1</text>
<text x="1053" y="1794.1" font-size="42" font-weight="bold">1</text>
<rect x="1790" y="2367" width="410" height="12" fill="#fff"/>
</svg>
</body></html>
